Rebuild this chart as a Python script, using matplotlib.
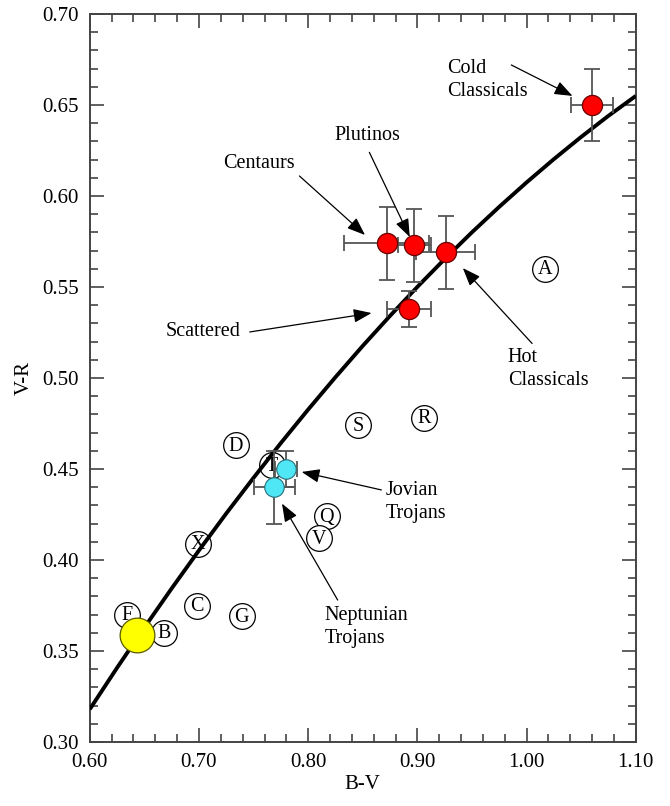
import matplotlib
matplotlib.use("Agg")
import matplotlib.pyplot as plt
from matplotlib.ticker import MultipleLocator, FormatStrFormatter

plt.rcParams["font.family"] = ["Liberation Serif", "DejaVu Serif"]

# colour-colour reference curve
CURVE_BV = [0.600, 0.625, 0.650, 0.675, 0.700, 0.725, 0.750, 0.775, 0.800, 0.825, 0.850,
            0.875, 0.900, 0.925, 0.950, 0.975, 1.000, 1.025, 1.050, 1.075, 1.100]
CURVE_VR = [0.3180, 0.3408, 0.3629, 0.3844, 0.4053, 0.4256, 0.4452, 0.4643, 0.4827,
            0.5005, 0.5177, 0.5342, 0.5501, 0.5654, 0.5801, 0.5941, 0.6075, 0.6203,
            0.6325, 0.6441, 0.6550]

# asteroid taxonomic classes
CLASS_LABELS = ["A", "R", "S", "D", "T", "Q", "V", "X", "C", "G", "F", "B"]
CLASS_BV = [1.017, 0.906, 0.846, 0.734, 0.767, 0.817, 0.810, 0.699, 0.698, 0.739, 0.634, 0.668]
CLASS_VR = [0.560, 0.478, 0.474, 0.463, 0.452, 0.424, 0.412, 0.409, 0.375, 0.369, 0.370, 0.360]

# outer solar system populations
KBO_NAMES = ["Cold Classicals", "Centaurs", "Plutinos", "Hot Classicals", "Scattered"]
KBO_BV = [1.060, 0.872, 0.897, 0.926, 0.892]
KBO_VR = [0.650, 0.574, 0.573, 0.569, 0.538]
KBO_BV_ERR = [0.019, 0.039, 0.015, 0.027, 0.020]
KBO_VR_ERR = [0.020, 0.020, 0.020, 0.020, 0.010]

TROJAN_NAMES = ["Jovian Trojans", "Neptunian Trojans"]
TROJAN_BV = [0.780, 0.769]
TROJAN_VR = [0.450, 0.440]
TROJAN_BV_ERR = [0.010, 0.019]
TROJAN_VR_ERR = [0.010, 0.020]

SUN_BV = 0.643
SUN_VR = 0.359

# annotation text, text anchor, arrow start, arrow tip
LABELS = [
    ("Cold\nClassicals", (0.927, 0.6637), "left", (0.986, 0.672), (1.042, 0.655)),
    ("Plutinos", (0.8546, 0.6335), "center", (0.856, 0.624), (0.893, 0.5775)),
    ("Centaurs", (0.7548, 0.618), "center", (0.792, 0.611), (0.852, 0.5786)),
    ("Scattered", (0.7035, 0.5253), "center", (0.7465, 0.5253), (0.858, 0.5357)),
    ("Hot\nClassicals", (0.9828, 0.505), "left", (1.005, 0.519), (0.9416, 0.5604)),
    ("Jovian\nTrojans", (0.871, 0.4319), "left", (0.867, 0.4385), (0.794, 0.4484)),
    ("Neptunian\nTrojans", (0.815, 0.3632), "left", (0.827, 0.378), (0.776, 0.431)),
]

AXIS_GREY = "#444444"
BAR_GREY = "#555555"

fig = plt.figure(figsize=(6.7, 8.06), dpi=100)
ax = fig.add_axes([0.134, 0.0794, 0.815, 0.9032])

# letter circles first so that the curve and markers lie on top
for i, (lab, bv, vr) in enumerate(zip(CLASS_LABELS, CLASS_BV, CLASS_VR)):
    z = 2 + i * 0.01
    ax.plot(bv, vr, "o", ms=18.5, mfc="white", mec="black", mew=0.9, zorder=z)
    ax.text(bv, vr - 0.0005, lab, ha="center", va="center", fontsize=14.5, zorder=z + 0.005)

ax.plot(CURVE_BV, CURVE_VR, color="black", lw=2.8, zorder=3,
        solid_capstyle="butt", solid_joinstyle="round")

ax.errorbar(KBO_BV, KBO_VR, xerr=KBO_BV_ERR, yerr=KBO_VR_ERR, fmt="none",
            ecolor=BAR_GREY, elinewidth=1.3, capsize=6, capthick=1.3, zorder=4)
ax.errorbar(TROJAN_BV, TROJAN_VR, xerr=TROJAN_BV_ERR, yerr=TROJAN_VR_ERR, fmt="none",
            ecolor=BAR_GREY, elinewidth=1.3, capsize=6, capthick=1.3, zorder=4)

ax.plot(KBO_BV, KBO_VR, "o", ms=14.5, mfc="#ff0000", mec="#6a0000", mew=0.9,
        ls="none", zorder=5)
ax.plot(TROJAN_BV, TROJAN_VR, "o", ms=14, mfc="#4fe6f6", mec="#2a6f78", mew=0.8,
        ls="none", zorder=5)
ax.plot(SUN_BV, SUN_VR, "o", ms=25, mfc="#ffff00", mec="#5a5a00", mew=0.9, zorder=6)

for text, pos, ha, start, tip in LABELS:
    ax.text(pos[0], pos[1], text, ha=ha, va="center", fontsize=14.5, linespacing=1.25,
            zorder=7)
    ax.annotate("", xy=tip, xytext=start,
                arrowprops=dict(arrowstyle="-|>,head_length=1.1,head_width=0.42",
                                color="black", lw=0.9, shrinkA=0, shrinkB=0),
                zorder=7)

ax.set_xlim(0.60, 1.10)
ax.set_ylim(0.30, 0.70)
ax.xaxis.set_major_locator(MultipleLocator(0.10))
ax.xaxis.set_minor_locator(MultipleLocator(0.02))
ax.yaxis.set_major_locator(MultipleLocator(0.05))
ax.yaxis.set_minor_locator(MultipleLocator(0.01))
ax.xaxis.set_major_formatter(FormatStrFormatter("%.2f"))
ax.yaxis.set_major_formatter(FormatStrFormatter("%.2f"))

ax.tick_params(which="both", direction="in", top=True, right=True, color=AXIS_GREY,
               labelsize=15, width=1.2, pad=8)
ax.tick_params(which="major", length=10)
ax.tick_params(which="minor", length=6)
for sp in ax.spines.values():
    sp.set_color(AXIS_GREY)
    sp.set_linewidth(1.4)

ax.set_xlabel("B-V", fontsize=15, labelpad=2)
ax.set_ylabel("V-R", fontsize=15, labelpad=6)

fig.savefig("out.png", dpi=100)
